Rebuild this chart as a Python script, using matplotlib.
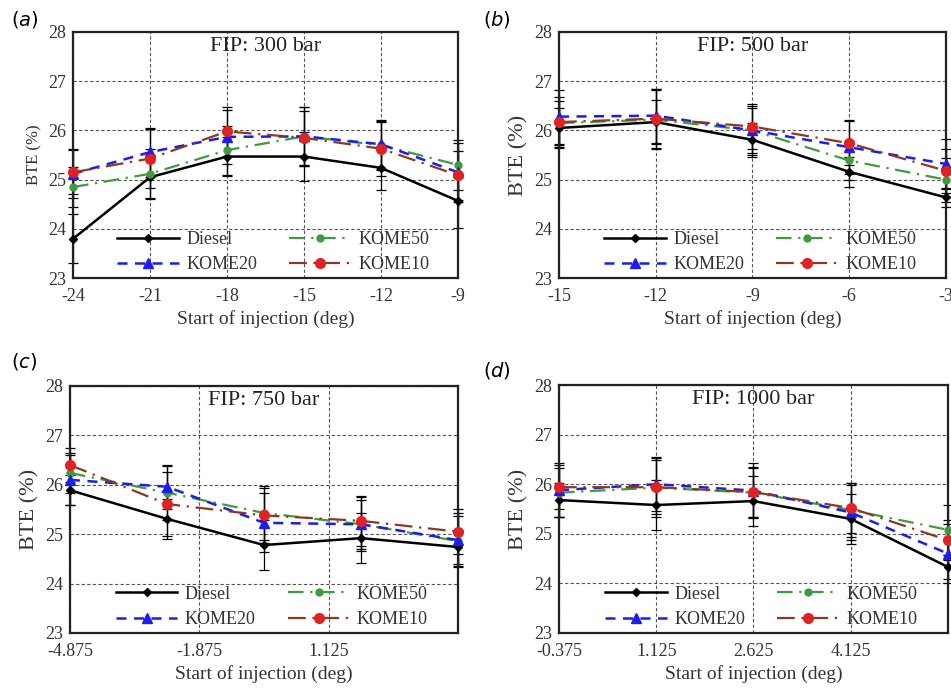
import numpy as np
import matplotlib
matplotlib.use("Agg")
import matplotlib.pyplot as plt

plt.rcParams['font.family'] = ['Liberation Serif', 'DejaVu Serif']
plt.rcParams['mathtext.fontset'] = 'dejavusans'

# x positions (start of injection, deg) for each panel
x_a = [-24, -21, -18, -15, -12, -9]
x_b = [-15, -12, -9, -6, -3]
x_c = [-4.875, -2.625, -0.375, 1.875, 4.125]
x_d = [-0.375, 1.125, 2.625, 4.125, 5.625]

# BTE (%) values
diesel_a = [23.80, 25.05, 25.47, 25.47, 25.24, 24.57]
kome50_a = [24.85, 25.12, 25.60, 25.88, 25.70, 25.30]
kome20_a = [25.12, 25.56, 25.87, 25.88, 25.72, 25.15]
kome10_a = [25.15, 25.43, 25.98, 25.85, 25.63, 25.09]

diesel_b = [26.05, 26.17, 25.81, 25.16, 24.64]
kome50_b = [26.15, 26.22, 26.00, 25.39, 25.00]
kome20_b = [26.28, 26.30, 26.00, 25.66, 25.32]
kome10_b = [26.17, 26.24, 26.08, 25.74, 25.18]

diesel_c = [25.89, 25.31, 24.78, 24.92, 24.74]
kome50_c = [26.24, 25.84, 25.43, 25.20, 24.86]
kome20_c = [26.10, 25.96, 25.23, 25.20, 24.88]
kome10_c = [26.40, 25.61, 25.38, 25.27, 25.05]

diesel_d = [25.68, 25.58, 25.66, 25.30, 24.33]
kome50_d = [25.83, 25.93, 25.83, 25.48, 25.08]
kome20_d = [25.88, 26.00, 25.87, 25.43, 24.60]
kome10_d = [25.94, 25.94, 25.84, 25.52, 24.87]

# error bar half-widths
err_diesel_a = [0.50, 0.45, 0.40, 0.50, 0.45, 0.55]
err_kome50_a = [0.40, 0.50, 0.50, 0.60, 0.50, 0.50]
err_kome20_a = [0.50, 0.50, 0.55, 0.60, 0.50, 0.60]
err_kome10_a = [0.45, 0.60, 0.50, 0.55, 0.55, 0.50]

err_diesel_b = [0.40, 0.45, 0.35, 0.30, 0.20]
err_kome50_b = [0.45, 0.60, 0.45, 0.40, 0.45]
err_kome20_b = [0.55, 0.55, 0.50, 0.55, 0.50]
err_kome10_b = [0.50, 0.60, 0.45, 0.45, 0.45]

err_diesel_c = [0.30, 0.40, 0.50, 0.50, 0.35]
err_kome50_c = [0.40, 0.55, 0.55, 0.55, 0.50]
err_kome20_c = [0.50, 0.45, 0.60, 0.50, 0.55]
err_kome10_c = [0.35, 0.65, 0.55, 0.50, 0.45]

err_diesel_d = [0.35, 0.50, 0.50, 0.50, 0.25]
err_kome50_d = [0.50, 0.60, 0.50, 0.55, 0.50]
err_kome20_d = [0.55, 0.55, 0.55, 0.55, 0.60]
err_kome10_d = [0.45, 0.55, 0.50, 0.50, 0.40]

titles = ["FIP: 300 bar", "FIP: 500 bar", "FIP: 750 bar", "FIP: 1000 bar"]
panel_letters = ["a", "b", "c", "d"]

panels = [
    (x_a, [diesel_a, kome50_a, kome20_a, kome10_a],
     [err_diesel_a, err_kome50_a, err_kome20_a, err_kome10_a],
     [-24, -21, -18, -15, -12, -9], ["-24", "-21", "-18", "-15", "-12", "-9"], (-24, -9)),
    (x_b, [diesel_b, kome50_b, kome20_b, kome10_b],
     [err_diesel_b, err_kome50_b, err_kome20_b, err_kome10_b],
     [-15, -12, -9, -6, -3], ["-15", "-12", "-9", "-6", "-3"], (-15, -3)),
    (x_c, [diesel_c, kome50_c, kome20_c, kome10_c],
     [err_diesel_c, err_kome50_c, err_kome20_c, err_kome10_c],
     [-4.875, -1.875, 1.125], ["-4.875", "-1.875", "1.125"], (-4.875, 4.125)),
    (x_d, [diesel_d, kome50_d, kome20_d, kome10_d],
     [err_diesel_d, err_kome50_d, err_kome20_d, err_kome10_d],
     [-0.375, 1.125, 2.625, 4.125], ["-0.375", "1.125", "2.625", "4.125"], (-0.375, 5.625)),
]

names = ["Diesel", "KOME50", "KOME20", "KOME10"]
styles = [
    dict(color="black", ls="-", lw=1.8, marker="D", ms=4, mfc="black", mec="black"),
    dict(color="#3f9b3f", ls=(0, (7, 3, 1, 3)), lw=1.6, marker="o", ms=5, mfc="#3f9b3f", mec="#3f9b3f"),
    dict(color="#1c1cf0", ls=(0, (4, 3)), lw=1.8, marker="^", ms=7, mfc="#1c1cf0", mec="#1c1cf0"),
    dict(color="#8a3a22", ls=(0, (8, 3, 1, 3)), lw=1.6, marker="o", ms=7, mfc="#e02222", mec="#e02222"),
]

# axes boxes in figure fraction: left, bottom, width, height
boxes = [
    [0.0768, 0.598, 0.4048, 0.3558],
    [0.5878, 0.598, 0.4069, 0.3558],
    [0.0736, 0.0853, 0.4080, 0.3569],
    [0.5878, 0.0853, 0.4090, 0.3583],
]
letter_pos = [(0.012, 0.972), (0.508, 0.972), (0.012, 0.478), (0.508, 0.464)]

fig = plt.figure(figsize=(9.51, 6.92), dpi=100)

for k, (xs, ys, errs, ticks, ticklabels, xlim) in enumerate(panels):
    ax = fig.add_axes(boxes[k])
    handles = []
    for y, e in zip(ys, errs):
        ax.errorbar(xs, y, yerr=e, fmt="none", ecolor="black", elinewidth=0.9,
                    capsize=3.5, capthick=0.9, clip_on=False, zorder=2)
    for y, name, st in zip(ys, names, styles):
        h, = ax.plot(xs, y, label=name, clip_on=False, zorder=3, **st)
        handles.append(h)
    ax.set_xlim(*xlim)
    ax.set_ylim(23, 28)
    ax.set_xticks(ticks)
    ax.set_xticklabels(ticklabels)
    ax.set_yticks([23, 24, 25, 26, 27, 28])
    ax.grid(True, ls=(0, (3, 2)), color="#555555", lw=0.8)
    ax.tick_params(direction="in", length=0, labelsize=13, colors="#333333")
    ax.tick_params(axis="x", pad=7)
    ax.tick_params(axis="y", pad=5)
    for s in ax.spines.values():
        s.set_linewidth(1.6)
        s.set_color("#222222")
    ax.set_xlabel("Start of injection (deg)", fontsize=14, color="#333333", labelpad=4)
    ax.set_ylabel("BTE (%)", fontsize=12 if k == 0 else 16, color="#333333", labelpad=4)
    ax.text(0.5, 0.94, titles[k], transform=ax.transAxes, ha="center", va="center",
            fontsize=16, color="#222222")
    # legend: two columns, Diesel/KOME50 on first row
    ax.legend([handles[0], handles[2], handles[1], handles[3]],
              [names[0], names[2], names[1], names[3]],
              ncol=2, loc="lower center", bbox_to_anchor=(0.52, -0.045),
              frameon=False, fontsize=13, handlelength=3.4, handletextpad=0.4,
              columnspacing=1.8, labelspacing=0.45, labelcolor="#333333")
    fig.text(letter_pos[k][0], letter_pos[k][1], r"($\mathit{" + panel_letters[k] + r"}$)",
             family="DejaVu Sans", fontsize=14, va="center", ha="left")

fig.savefig("out.png", dpi=100)
